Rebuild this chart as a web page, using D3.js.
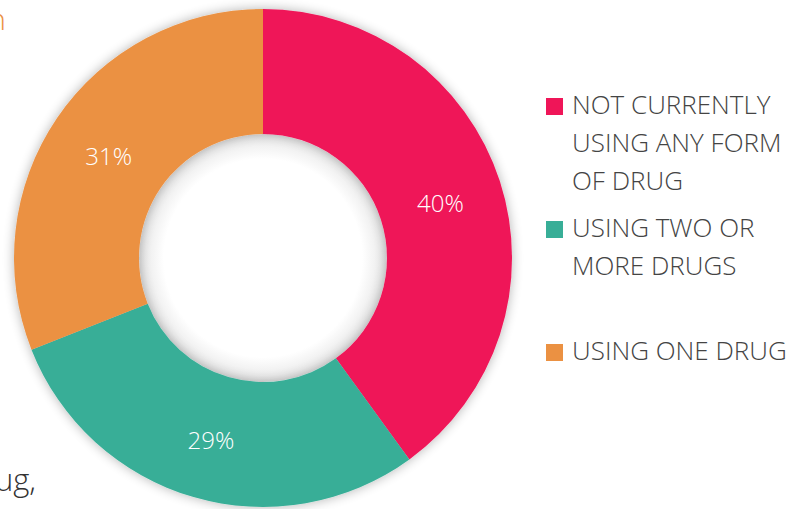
<!DOCTYPE html>
<html>
<head>
<meta charset="utf-8">
<script src="https://cdn.jsdelivr.net/npm/d3@7"></script>
<style>
  body { margin:0; background:#fff; }
  svg { display:block; font-family:"Open Sans","Noto Sans",sans-serif; }
</style>
</head>
<body>
<svg width="806" height="509"></svg>
<script>
var categories = ["NOT CURRENTLY USING ANY FORM OF DRUG", "USING TWO OR MORE DRUGS", "USING ONE DRUG"];
var values = [40, 29, 31];
var colors = ["#ef1558", "#38ae97", "#eb9142"];
var legendLines = [["NOT CURRENTLY", "USING ANY FORM", "OF DRUG"], ["USING TWO OR", "MORE DRUGS"], ["USING ONE DRUG"]];
var legendTop = [114, 237, 360];

var svg = d3.select("svg");
var cx = 263, cy = 258, outerR = 249, innerR = 124;

var defs = svg.append("defs");
var f = defs.append("filter").attr("id", "sh").attr("x", "-20%").attr("y", "-20%").attr("width", "140%").attr("height", "140%");
f.append("feGaussianBlur").attr("in", "SourceAlpha").attr("stdDeviation", 6).attr("result", "b");
f.append("feComponentTransfer").attr("in", "b").attr("result", "s")
  .append("feFuncA").attr("type", "linear").attr("slope", 0.3);
var m = f.append("feMerge");
m.append("feMergeNode").attr("in", "s");
m.append("feMergeNode").attr("in", "SourceGraphic");

var hole = defs.append("radialGradient").attr("id", "hole");
hole.append("stop").attr("offset", "80%").attr("stop-color", "#ffffff");
hole.append("stop").attr("offset", "100%").attr("stop-color", "#e6e6e6");

var g = svg.append("g").attr("transform", "translate(" + cx + "," + cy + ")");

var pie = d3.pie().sort(null).value(function(d){ return d; });
var arc = d3.arc().innerRadius(innerR).outerRadius(outerR);
var arcs = pie(values);

g.append("circle").attr("r", innerR).attr("fill", "url(#hole)");

g.append("g").attr("filter", "url(#sh)")
  .selectAll("path").data(arcs).enter().append("path")
  .attr("d", arc)
  .attr("fill", function(d, i){ return colors[i]; });

g.selectAll("text.lbl").data(arcs).enter().append("text")
  .attr("class", "lbl")
  .attr("transform", function(d){ return "translate(" + arc.centroid(d) + ")"; })
  .attr("text-anchor", "middle")
  .attr("dy", "0.48em")
  .attr("fill", "#fff")
  .attr("font-size", 24)
  .attr("font-weight", 300)
  .text(function(d){ return d.value + "%"; });

// legend
var lg = svg.append("g");
categories.forEach(function(c, i){
  lg.append("rect").attr("x", 546).attr("y", legendTop[i] - 16).attr("width", 17).attr("height", 17)
    .attr("fill", colors[i]);
  var t = lg.append("text").attr("x", 572).attr("y", legendTop[i])
    .attr("fill", "#444").attr("font-size", 26).attr("font-weight", 300);
  legendLines[i].forEach(function(l, j){
    t.append("tspan").attr("x", 572).attr("dy", j ? 38 : 0).text(l);
  });
});

// cropped text fragments from surrounding page
svg.append("text").attr("x", 6).attr("y", 30).attr("text-anchor", "end")
  .attr("fill", "#eb9142").attr("font-size", 30).attr("font-weight", 300).text("n");
svg.append("text").attr("x", 36).attr("y", 491).attr("text-anchor", "end")
  .attr("fill", "#333").attr("font-size", 31).attr("font-weight", 300).text("drug,");
</script>
</body>
</html>
